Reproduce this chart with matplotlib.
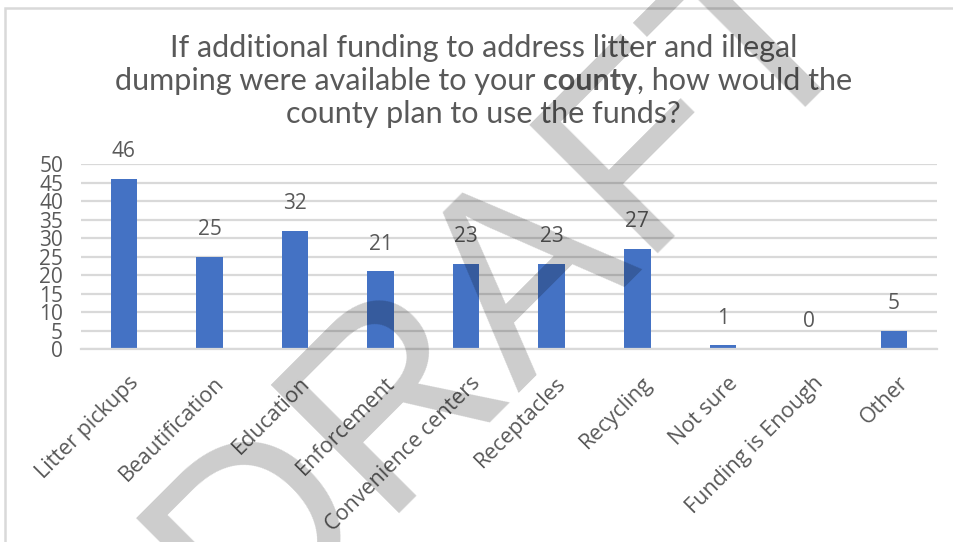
import matplotlib
matplotlib.use("Agg")
import matplotlib.pyplot as plt
from matplotlib.patches import Rectangle
from matplotlib.transforms import ScaledTranslation

categories = ["Litter pickups", "Beautification", "Education", "Enforcement",
              "Convenience centers", "Receptacles", "Recycling", "Not sure",
              "Funding is Enough", "Other"]
counts = [46, 25, 32, 21, 23, 23, 27, 1, 0, 5]
yticks = [0, 5, 10, 15, 20, 25, 30, 35, 40, 45, 50]

title_line1 = "If additional funding to address litter and illegal"
title_line2 = ["dumping were available to your ", "county", ", how would the"]
title_line3 = "county plan to use the funds?"

BLUE = "#4472C4"
TXT = "#595959"
GRID = "#D9D9D9"
TFONT = "Lato"
LFONT = "Open Sans"
TSIZE = 22

fig = plt.figure(figsize=(9.54, 5.42), dpi=100)
ax = fig.add_axes([0.085, 0.356, 0.897, 0.3414])

x = list(range(len(categories)))
ax.bar(x, counts, width=0.31, color=BLUE, zorder=2)
for xi, v in zip(x, counts):
    ax.annotate(str(v), (xi, v), xytext=(0, 12), textcoords="offset points",
                ha="center", va="bottom", fontsize=15, color=TXT,
                family=LFONT)

ax.set_xlim(-0.5, len(categories) - 0.5)
ax.set_ylim(0, 50)
ax.set_yticks(yticks)
ax.set_yticklabels([str(t) for t in yticks], fontsize=15, color=TXT,
                   family=LFONT)
ax.yaxis.grid(True, color=GRID, lw=1.6, zorder=0)
ax.set_axisbelow(True)
ax.tick_params(axis="y", length=0, pad=13)
ax.tick_params(axis="x", length=0, pad=17)
ax.set_xticks(x)
ax.set_xticklabels(categories, rotation=45, ha="right", va="top",
                   rotation_mode="anchor", fontsize=15.5, color=TXT,
                   family=LFONT)
shift = ScaledTranslation(4 / 100, 0, fig.dpi_scale_trans)
for lab in ax.get_xticklabels():
    lab.set_transform(lab.get_transform() + shift)
for s in ["top", "right", "left"]:
    ax.spines[s].set_visible(False)
ax.spines["bottom"].set_color(GRID)
ax.spines["bottom"].set_linewidth(1.6)

# chart frame (only the top and left edges fall inside the canvas)
fig.patches.append(Rectangle((5.5 / 954, -0.2), 1.2, 1.2 - 7.5 / 542,
                             transform=fig.transFigure, fill=False,
                             edgecolor=GRID, lw=1.8))

# title: three centred lines, "county" in bold on the second
tx = 0.507
fig.text(tx, 1 - 48 / 542, title_line1, ha="center", va="center",
         fontsize=TSIZE, color=TXT, family=TFONT)
fig.text(tx, 1 - 114 / 542, title_line3, ha="center", va="center",
         fontsize=TSIZE, color=TXT, family=TFONT)
renderer = fig.canvas.get_renderer()
parts = []
for i, seg in enumerate(title_line2):
    t = fig.text(0, 1 - 81 / 542, seg, ha="left", va="center",
                 fontsize=TSIZE, color=TXT, family=TFONT,
                 weight="bold" if i == 1 else "normal")
    parts.append(t)
widths = [p.get_window_extent(renderer).width / fig.bbox.width for p in parts]
left = tx - sum(widths) / 2
for p, w in zip(parts, widths):
    p.set_x(left)
    left += w

# watermark
fig.text(0.53, 0.47, "DRAFT", rotation=45, rotation_mode="anchor",
         ha="center", va="center", fontsize=190, color="black", alpha=0.2,
         family="Liberation Sans", zorder=10)

fig.savefig("out.png", dpi=100)
